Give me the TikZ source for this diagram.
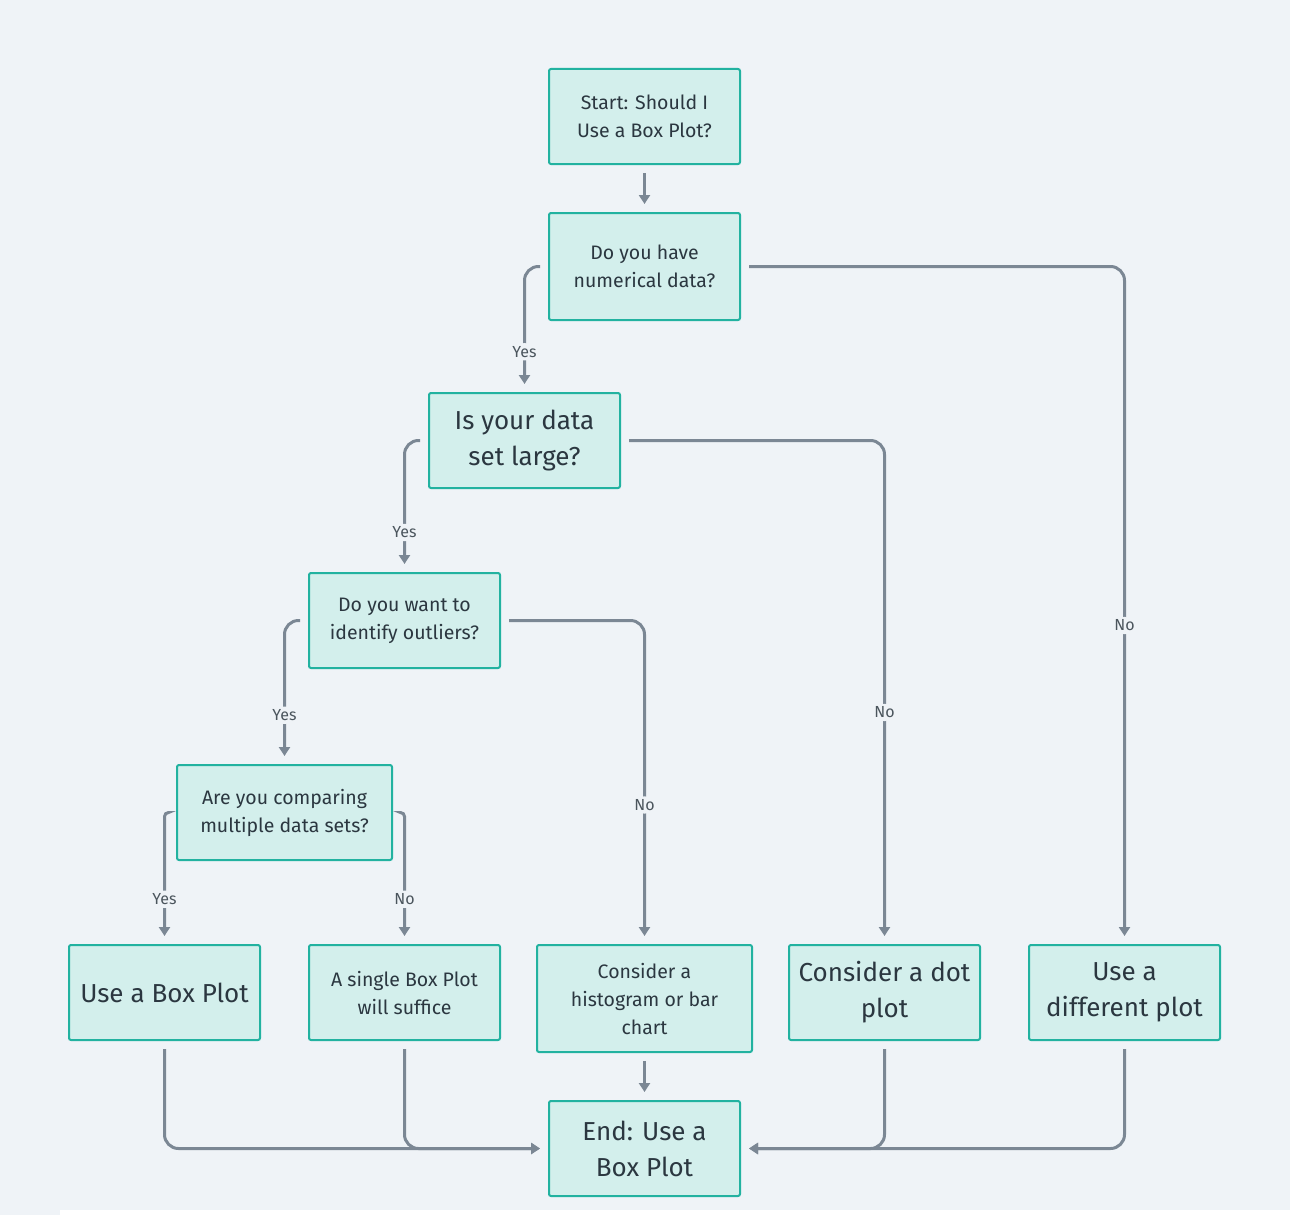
\documentclass[tikz,border=0pt]{standalone}
\usepackage{fontspec}
\setmainfont{Fira Sans}
\usetikzlibrary{arrows.meta, positioning, calc}
\definecolor{bgcol}{HTML}{EFF3F7}
\definecolor{boxfill}{HTML}{D3EFEC}
\definecolor{boxline}{HTML}{22B2A0}
\definecolor{linkcol}{HTML}{7B8794}
\definecolor{txtcol}{HTML}{2B3740}
\tikzset{
  stepbox/.style={draw=boxline, fill=boxfill, line width=2pt, rounded corners=2pt,
    minimum width=191pt, minimum height=95pt, inner sep=0pt, align=center,
    text=txtcol, font=\fontsize{19.5}{28}\selectfont},
  bigbox/.style={stepbox, font=\fontsize{26}{36}\selectfont},
  link/.style={draw=linkcol, line width=3pt, rounded corners=14pt,
    -{Triangle[width=11pt,length=9pt]}, shorten <=8pt, shorten >=8pt},
  lbl/.style={fill=bgcol, text=txtcol!85, font=\fontsize{16}{18}\selectfont, inner sep=3pt}
}

\begin{document}
\begin{tikzpicture}[x=1pt, y=-1pt]
	% background
	\fill[bgcol] (0,0) rectangle (1290,1215);
	\fill[white] (60,1210) rectangle (1290,1215);
	\useasboundingbox (0,0) rectangle (1290,1215);

	% questions
	\node[stepbox] (start) at (644.5,116.5) {Start: Should I\\Use a Box Plot?};
	\node[stepbox, minimum height=107pt] (num) at (644.5,266.5) {Do you have\\numerical data?};
	\node[bigbox] (large) at (524.5,440.5) {Is your data\\set large?};
	\node[stepbox] (outl) at (404.5,620.5) {Do you want to\\identify outliers?};
	\node[stepbox, minimum width=215pt] (comp) at (284.5,812.5) {Are you comparing\\multiple data sets?};

	% outcomes
	\node[bigbox] (bplot) at (164.5,992.5) {Use a Box Plot};
	\node[stepbox] (single) at (404.5,992.5) {A single Box Plot\\will suffice};
	\node[stepbox, minimum width=215pt, minimum height=107pt] (hist) at (644.5,998.5) {Consider a\\histogram or bar\\chart};
	\node[bigbox] (dot) at (884.5,992.5) {Consider a dot\\plot};
	\node[bigbox] (diff) at (1124.5,992.5) {Use a\\different plot};
	\node[bigbox] (end) at (644.5,1148.5) {End: Use a\\Box Plot};

	% decisions
	\draw[link] (start.south) -- (num.north);
	\draw[link] (num.west) -| node[lbl, pos=0.84] {Yes} (large.north);
	\draw[link] (num.east) -| node[lbl, pos=0.765] {No} (diff.north);
	\draw[link] (large.west) -| node[lbl, pos=0.85] {Yes} (outl.north);
	\draw[link] (large.east) -| node[lbl, pos=0.77] {No} (dot.north);
	\draw[link] (outl.west) -| node[lbl, pos=0.83] {Yes} (comp.north);
	\draw[link] (outl.east) -| node[lbl, pos=0.785] {No} (hist.north);
	\draw[link, rounded corners=4pt] (comp.west) -| node[lbl, pos=0.83] {Yes} (bplot.north);
	\draw[link, rounded corners=4pt] (comp.east) -| node[lbl, pos=0.83] {No} (single.north);

	% to the end
	\draw[link] (bplot.south) |- (end.west);
	\draw[link] (single.south) |- (end.west);
	\draw[link] (hist.south) -- (end.north);
	\draw[link] (dot.south) |- (end.east);
	\draw[link] (diff.south) |- (end.east);
\end{tikzpicture}
\end{document}
